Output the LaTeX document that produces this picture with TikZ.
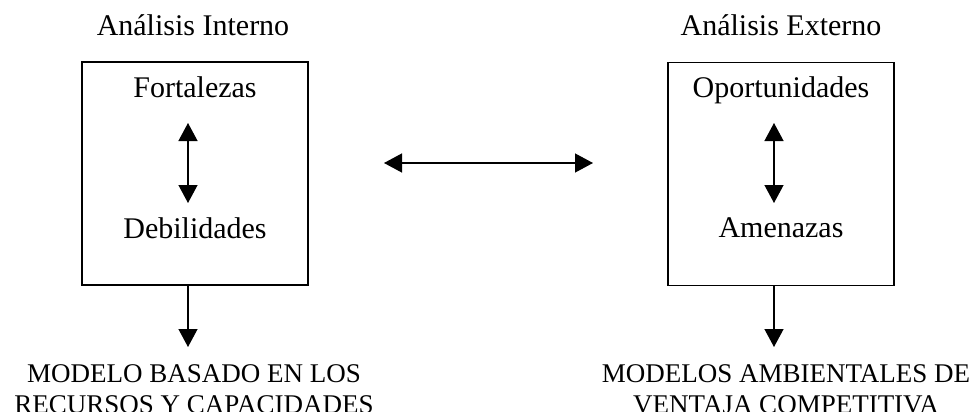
\documentclass[tikz,border=0pt]{standalone}
\usepackage{fontspec}
\setmainfont{Liberation Serif}
\usetikzlibrary{arrows.meta}
\tikzset{
  lbl/.style={inner sep=0pt, anchor=base, font=\fontsize{30}{34}\selectfont},
  outlbl/.style={inner sep=0pt, anchor=north, align=center, font=\fontsize{27}{31}\selectfont},
  panel/.style={draw, line width=1.3pt, minimum width=226pt, minimum height=223pt, inner sep=0pt},
  arr/.style={line width=1.3pt, -{Triangle[length=18pt,width=19pt]}},
  dbl/.style={line width=1.3pt, {Triangle[length=18pt,width=19pt]}-{Triangle[length=18pt,width=19pt]}}
}
\begin{document}
\begin{tikzpicture}[x=1pt,y=-1pt]
\useasboundingbox (0,0) rectangle (978,412);
% boxes
\node[panel] (boxI) at (195,173.5) {};
\node[panel] (boxE) at (781,174) {};
% titles
\node[lbl] (tI) at (193,36) {Análisis Interno};
\node[lbl] (tE) at (781,36) {Análisis Externo};
% inner texts
\node[lbl] (fort) at (195,97) {Fortalezas};
\node[lbl] (deb) at (195,238) {Debilidades};
\node[lbl] (opo) at (781,98) {Oportunidades};
\node[lbl] (ame) at (781,237) {Amenazas};
% outputs
\node[outlbl] (outI) at (194,364) {MODELO BASADO EN LOS\\RECURSOS Y CAPACIDADES};
\node[outlbl] (outE) at (786,364) {MODELOS AMBIENTALES DE\\VENTAJA COMPETITIVA};
% coordinates for arrow ends
\coordinate (iTop) at (188,123);
\coordinate (iBot) at (188,203);
\coordinate (eTop) at (774,123);
\coordinate (eBot) at (774,203);
\coordinate (hL) at (384,163);
\coordinate (hR) at (593,163);
\coordinate (iOut) at (188,347);
\coordinate (eOut) at (774,347);
% arrows
\draw[dbl] (iTop) -- (iBot);
\draw[dbl] (eTop) -- (eBot);
\draw[dbl] (hL) -- (hR);
\draw[arr] (boxI.south -| iOut) -- (iOut);
\draw[arr] (boxE.south -| eOut) -- (eOut);
\end{tikzpicture}
\end{document}
